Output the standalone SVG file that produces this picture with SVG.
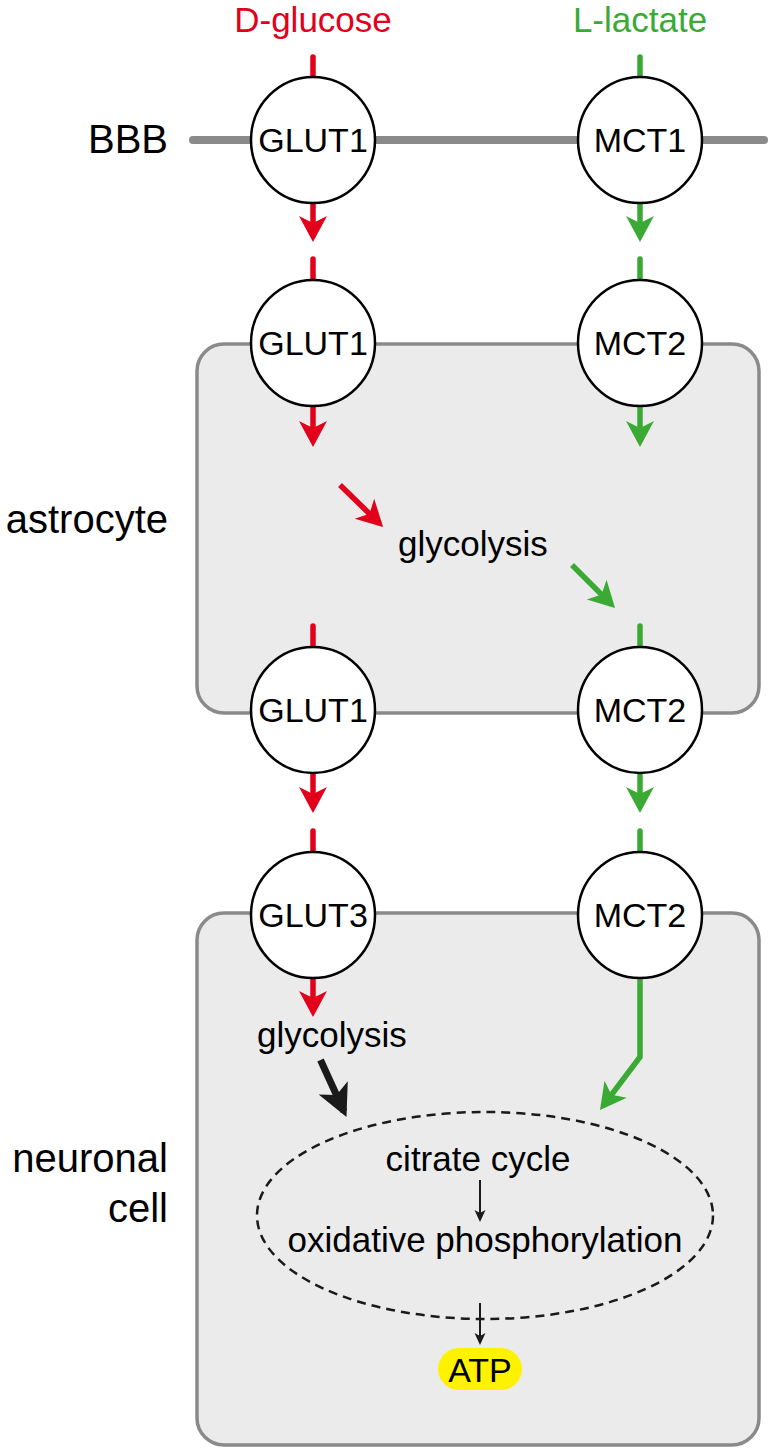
<svg xmlns="http://www.w3.org/2000/svg" width="768" height="1451" viewBox="0 0 768 1451">
<style>
  text { font-family: "Liberation Sans", Arial, sans-serif; fill: #000; }
  .lbl { font-size: 40px; text-anchor: end; }
  .tr { font-size: 34px; text-anchor: middle; }
  .pw { font-size: 35px; text-anchor: middle; }
  .box { fill: #ebebeb; stroke: #8a8a8a; stroke-width: 3.5; }
  .tp { fill: #fff; stroke: #000; stroke-width: 2.5; }
  .r { stroke: #e2001a; stroke-width: 5.5; fill: none; }
  .g { stroke: #3aaa35; stroke-width: 5.5; fill: none; }
  .stub { stroke-linecap: round; }
</style>
<defs>
  <marker id="ar" markerUnits="userSpaceOnUse" orient="auto" markerWidth="40" markerHeight="40" viewBox="-30 -20 40 40" refX="0" refY="0" overflow="visible">
    <path d="M5,0 L-21,-14 L-14,0 L-21,14 Z" fill="#e2001a"/>
  </marker>
  <marker id="ag" markerUnits="userSpaceOnUse" orient="auto" markerWidth="40" markerHeight="40" viewBox="-30 -20 40 40" refX="0" refY="0" overflow="visible">
    <path d="M5,0 L-21,-14 L-14,0 L-21,14 Z" fill="#3aaa35"/>
  </marker>
  <marker id="ak" markerUnits="userSpaceOnUse" orient="auto" markerWidth="50" markerHeight="50" viewBox="-35 -25 50 50" refX="0" refY="0" overflow="visible">
    <path d="M6,0 L-26,-16 L-18,0 L-26,16 Z" fill="#1a1a1a"/>
  </marker>
  <marker id="at" markerUnits="userSpaceOnUse" orient="auto" markerWidth="20" markerHeight="20" viewBox="-15 -10 20 20" refX="0" refY="0" overflow="visible">
    <path d="M2,0 L-10,-5.5 L-7,0 L-10,5.5 Z" fill="#1a1a1a"/>
  </marker>
</defs>

<rect width="768" height="1451" fill="#fff"/>

<!-- compartments -->
<g id="astrocyte">
  <rect class="box" x="197" y="344" width="562" height="369" rx="27" ry="27"/>
</g>
<g id="neuron">
  <rect class="box" x="197" y="913" width="562" height="532" rx="27" ry="27"/>
</g>
<g id="bbb">
  <line x1="193" y1="140" x2="764" y2="140" stroke="#8a8a8a" stroke-width="8" stroke-linecap="round"/>
</g>

<!-- labels -->
<g id="labels">
  <text class="lbl" x="168" y="153">BBB</text>
  <text class="lbl" x="168" y="533">astrocyte</text>
  <text class="lbl" x="168" y="1172">neuronal</text>
  <text class="lbl" x="168" y="1222">cell</text>
  <text class="pw" x="313" y="32" style="fill:#e2001a">D-glucose</text>
  <text class="pw" x="640" y="32" style="fill:#3aaa35">L-lactate</text>
</g>

<!-- connectors -->
<g id="connectors">
  <!-- glucose column -->
  <line class="r stub" x1="313" y1="57" x2="313" y2="78"/>
  <line class="r" x1="313" y1="203" x2="313" y2="237" marker-end="url(#ar)"/>
  <line class="r stub" x1="313" y1="259" x2="313" y2="281"/>
  <line class="r" x1="313" y1="406" x2="313" y2="442" marker-end="url(#ar)"/>
  <line class="r" x1="340" y1="485" x2="379.5" y2="523.5" marker-end="url(#ar)"/>
  <line class="r stub" x1="313" y1="626" x2="313" y2="648"/>
  <line class="r" x1="313" y1="773" x2="313" y2="808" marker-end="url(#ar)"/>
  <line class="r stub" x1="313" y1="831" x2="313" y2="853"/>
  <line class="r" x1="313" y1="978" x2="313" y2="1012" marker-end="url(#ar)"/>
  <!-- lactate column -->
  <line class="g stub" x1="640" y1="57" x2="640" y2="78"/>
  <line class="g" x1="640" y1="203" x2="640" y2="237" marker-end="url(#ag)"/>
  <line class="g stub" x1="640" y1="259" x2="640" y2="281"/>
  <line class="g" x1="640" y1="406" x2="640" y2="442" marker-end="url(#ag)"/>
  <line class="g" x1="572" y1="565" x2="611.5" y2="604.5" marker-end="url(#ag)"/>
  <line class="g stub" x1="640" y1="626" x2="640" y2="648"/>
  <line class="g" x1="640" y1="773" x2="640" y2="808" marker-end="url(#ag)"/>
  <line class="g stub" x1="640" y1="831" x2="640" y2="853"/>
  <path class="g" d="M640,978 L640,1057 L603,1106" stroke-linejoin="miter" marker-end="url(#ag)"/>
  <!-- neuron metabolism -->
  <line x1="320.5" y1="1060" x2="344" y2="1111.5" stroke="#1a1a1a" stroke-width="7" marker-end="url(#ak)"/>
  <line x1="480" y1="1180" x2="480" y2="1220" stroke="#1a1a1a" stroke-width="2" marker-end="url(#at)"/>
  <line x1="480" y1="1303" x2="480" y2="1343" stroke="#1a1a1a" stroke-width="2" marker-end="url(#at)"/>
</g>

<!-- transporters -->
<g id="glut1-bbb"><ellipse class="tp" cx="313" cy="140" rx="62" ry="63"/><text class="tr" x="313" y="152">GLUT1</text></g>
<g id="mct1-bbb"><ellipse class="tp" cx="640" cy="140" rx="62" ry="63"/><text class="tr" x="640" y="152">MCT1</text></g>
<g id="glut1-astro-in"><ellipse class="tp" cx="313" cy="343" rx="62" ry="63"/><text class="tr" x="313" y="355">GLUT1</text></g>
<g id="mct2-astro-in"><ellipse class="tp" cx="640" cy="343" rx="62" ry="63"/><text class="tr" x="640" y="355">MCT2</text></g>
<g id="glut1-astro-out"><ellipse class="tp" cx="313" cy="710" rx="62" ry="63"/><text class="tr" x="313" y="722">GLUT1</text></g>
<g id="mct2-astro-out"><ellipse class="tp" cx="640" cy="710" rx="62" ry="63"/><text class="tr" x="640" y="722">MCT2</text></g>
<g id="glut3-neuron"><ellipse class="tp" cx="313" cy="915" rx="62" ry="63"/><text class="tr" x="313" y="927">GLUT3</text></g>
<g id="mct2-neuron"><ellipse class="tp" cx="640" cy="915" rx="62" ry="63"/><text class="tr" x="640" y="927">MCT2</text></g>

<!-- processes -->
<g id="glycolysis-astro"><text class="pw" x="473" y="556">glycolysis</text></g>
<g id="glycolysis-neuron"><text class="pw" x="332" y="1047">glycolysis</text></g>
<g id="mitochondria">
  <ellipse cx="485" cy="1215.5" rx="228" ry="103.5" fill="none" stroke="#1a1a1a" stroke-width="2.5" stroke-dasharray="9 6"/>
  <text class="pw" x="478" y="1171">citrate cycle</text>
  <text class="pw" x="485" y="1252">oxidative phosphorylation</text>
</g>
<g id="atp">
  <rect x="438" y="1348" width="84" height="42" rx="21" ry="21" fill="#fff200"/>
  <text class="tr" x="480" y="1382">ATP</text>
</g>
</svg>
